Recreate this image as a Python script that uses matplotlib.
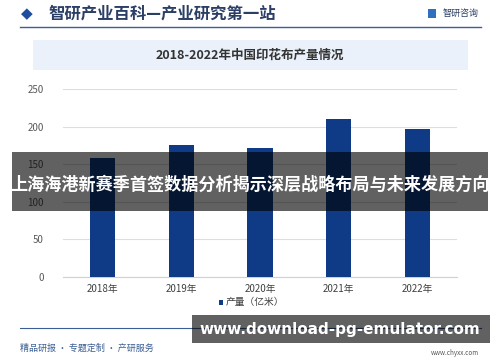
import matplotlib.pyplot as plt
from matplotlib.patches import Rectangle
from matplotlib.lines import Line2D

plt.rcParams['font.family'] = ['Noto Sans CJK SC', 'DejaVu Sans']

years = ["2018年", "2019年", "2020年", "2021年", "2022年"]
output = [158, 175, 172, 210, 197]
yticks = [0, 50, 100, 150, 200, 250]

fig = plt.figure(figsize=(5, 3.62), dpi=100)
fig.patch.set_facecolor("white")

# header
fig.text(0.042, 0.962, "◆", color="#1f4e9c", fontsize=11, va="center", family=["DejaVu Sans"])
fig.text(0.096, 0.962, "智研产业百科—产业研究第一站", color="#2b3f66", fontsize=11.8,
         va="center", fontweight="bold")
fig.text(0.958, 0.962, "智研咨询", color="#2b3f66", fontsize=6.5, va="center", ha="right")
fig.add_artist(Rectangle((0.855, 0.950), 0.016, 0.024, transform=fig.transFigure,
                         facecolor="#2f6fc0", edgecolor="none"))
fig.add_artist(Line2D([0.04, 0.962], [0.925, 0.925], transform=fig.transFigure,
                      color="#3b5f94", linewidth=1))

# title box
fig.add_artist(Rectangle((0.066, 0.807), 0.87, 0.083, transform=fig.transFigure,
                         facecolor="#eaf1fa", edgecolor="none"))
fig.text(0.5, 0.848, "2018-2022年中国印花布产量情况", color="#333333", fontsize=9,
         ha="center", va="center", fontweight="bold")

# chart
ax = fig.add_axes([0.126, 0.235, 0.788, 0.519])
x = range(len(years))
ax.bar(x, output, width=0.32, color="#0f3a86", zorder=3)
ax.set_xlim(-0.5, len(years) - 0.5)
ax.set_ylim(0, 250)
ax.set_yticks(yticks)
ax.set_xticks(list(x))
ax.set_xticklabels(years)
ax.grid(axis="y", color="#dddddd", linewidth=0.8, zorder=0)
for s in ["top", "right", "left"]:
    ax.spines[s].set_visible(False)
ax.spines["bottom"].set_color("#d0d0d0")
ax.tick_params(axis="both", length=0, labelsize=7, colors="#595959")
ax.tick_params(axis="x", colors="#404040")
ax.tick_params(axis="y", pad=14)
ax.tick_params(axis="x", pad=5)

# legend
fig.add_artist(Rectangle((0.437, 0.158), 0.009, 0.013, transform=fig.transFigure,
                         facecolor="#0f3a86", edgecolor="none"))
fig.text(0.452, 0.165, "产量（亿米）", color="#404040", fontsize=7, va="center")

# footer
fig.add_artist(Line2D([0.04, 0.962], [0.094, 0.094], transform=fig.transFigure,
                      color="#3b5f94", linewidth=0.8))
fig.text(0.04, 0.038, "精品研报 · 专题定制 · 产研服务", color="#3b5f94", fontsize=6.5, va="center")
fig.text(0.958, 0.025, "www.chyxx.com", color="#555555", fontsize=4.5, va="center", ha="right")

# overlay banners
fig.add_artist(Rectangle((0.024, 0.418), 0.952, 0.163, transform=fig.transFigure,
                         facecolor="black", alpha=0.62, edgecolor="none", zorder=10))
fig.text(0.5, 0.49, "上海海港新赛季首签数据分析揭示深层战略布局与未来发展方向", color="white",
         fontsize=12.3, ha="center", va="center", fontweight="bold", zorder=11)

fig.add_artist(Rectangle((0.384, 0.052), 0.596, 0.078, transform=fig.transFigure,
                         facecolor="black", alpha=0.62, edgecolor="none", zorder=10))
fig.text(0.679, 0.091, "www.download-pg-emulator.com", color="white", fontsize=11,
         ha="center", va="center", fontweight="bold", zorder=11, family=["DejaVu Sans"])

fig.savefig("out.png", dpi=100)
